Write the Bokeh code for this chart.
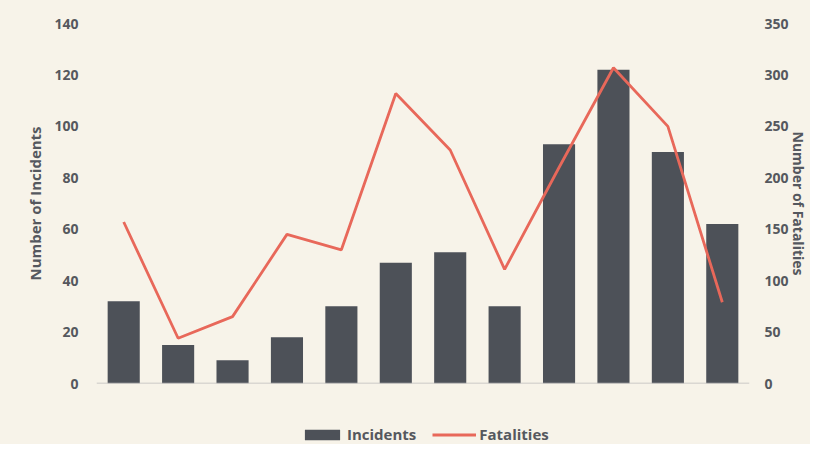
from bokeh.plotting import figure
from bokeh.layouts import column
from bokeh.models import (Range1d, LinearAxis, FixedTicker, Span, Legend, LegendItem,
                          ColumnDataSource, FactorRange)
from bokeh.embed import file_html
from bokeh.resources import INLINE

# ---- data ----
periods = ["P1", "P2", "P3", "P4", "P5", "P6", "P7", "P8", "P9", "P10", "P11", "P12"]
incidents = [32, 15, 9, 18, 30, 47, 51, 30, 93, 122, 90, 62]
fatalities = [157, 44, 65, 145, 130, 282, 227, 111, 210, 307, 250, 79]
left_ticks = [0, 20, 40, 60, 80, 100, 120, 140]
right_ticks = [0, 50, 100, 150, 200, 250, 300, 350]

BG = "#f7f3e9"
BAR = "#4d5158"
LINE = "#e8685a"
TXT = "#55585e"
FONT = "Open Sans"

src = ColumnDataSource(dict(period=periods, incidents=incidents, fatalities=fatalities))
xr = FactorRange(*periods, range_padding=0)

p = figure(width=810, height=419, output_backend="svg", toolbar_location=None,
           x_range=xr, y_range=Range1d(0, 140),
           min_border_left=96, min_border_right=60, min_border_top=23, min_border_bottom=36)
p.extra_y_ranges = {"fat": Range1d(0, 350)}

p.background_fill_color = None
p.border_fill_color = BG
p.outline_line_color = None
p.xgrid.visible = False
p.ygrid.visible = False
p.xaxis.visible = False
p.styles = {"background-color": BG}

bar_style = dict(fill_color=BAR, line_color=None)
line_style = dict(line_color=LINE, line_width=2.8)

p.vbar(x="period", top="incidents", width=0.59, source=src, **bar_style)
p.line(x="period", y="fatalities", source=src, y_range_name="fat", **line_style)

p.add_layout(Span(location=0, dimension="width", line_color="#bdbbbb", line_width=1.5))

yl = p.yaxis[0]
yl.ticker = FixedTicker(ticks=left_ticks)
yl.axis_label = "Number of Incidents"

yr = LinearAxis(y_range_name="fat", ticker=FixedTicker(ticks=right_ticks),
                axis_label="Number of Fatalities")
p.add_layout(yr, "right")

for ax in (yl, yr):
    ax.axis_line_color = None
    ax.major_tick_line_color = None
    ax.minor_tick_line_color = None
    ax.major_tick_out = 0
    ax.major_tick_in = 0
    ax.minor_tick_out = 0
    ax.major_label_text_font = FONT
    ax.major_label_text_font_style = "bold"
    ax.major_label_text_font_size = "14px"
    ax.major_label_text_color = TXT
    ax.axis_label_text_font = FONT
    ax.axis_label_text_font_style = "bold"
    ax.axis_label_text_font_size = "15px"
    ax.axis_label_text_color = TXT
yl.major_label_standoff = 18
yl.axis_label_standoff = 6
yr.major_label_standoff = 15
yr.axis_label_standoff = -3
yr.axis_label_text_font_size = "14px"

# ---- legend strip below the chart (its renderers lie outside its visible range) ----
lg = figure(width=810, height=25, output_backend="svg", toolbar_location=None,
            x_range=xr, y_range=Range1d(-1000, -999), min_border=0)
lg.background_fill_color = None
lg.border_fill_color = BG
lg.outline_line_color = None
lg.grid.visible = False
lg.axis.visible = False
lg.styles = {"background-color": BG}
lr_bar = lg.vbar(x="period", top="incidents", width=0, source=src, **bar_style)
lr_line = lg.line(x="period", y="fatalities", source=src, **line_style)
legend = Legend(items=[LegendItem(label="Incidents", renderers=[lr_bar]),
                       LegendItem(label="Fatalities", renderers=[lr_line])],
                orientation="horizontal", location=(204, 0),
                background_fill_alpha=0, border_line_color=None,
                padding=0, margin=0, spacing=16, label_standoff=3,
                glyph_width=44, glyph_height=13,
                label_text_font=FONT, label_text_font_style="bold",
                label_text_font_size="15px", label_text_color=TXT)
lg.add_layout(legend, "center")

page = column(p, lg, spacing=0)
page.styles = {"background-color": BG}

open("out.html", "w").write(file_html(page, INLINE))
